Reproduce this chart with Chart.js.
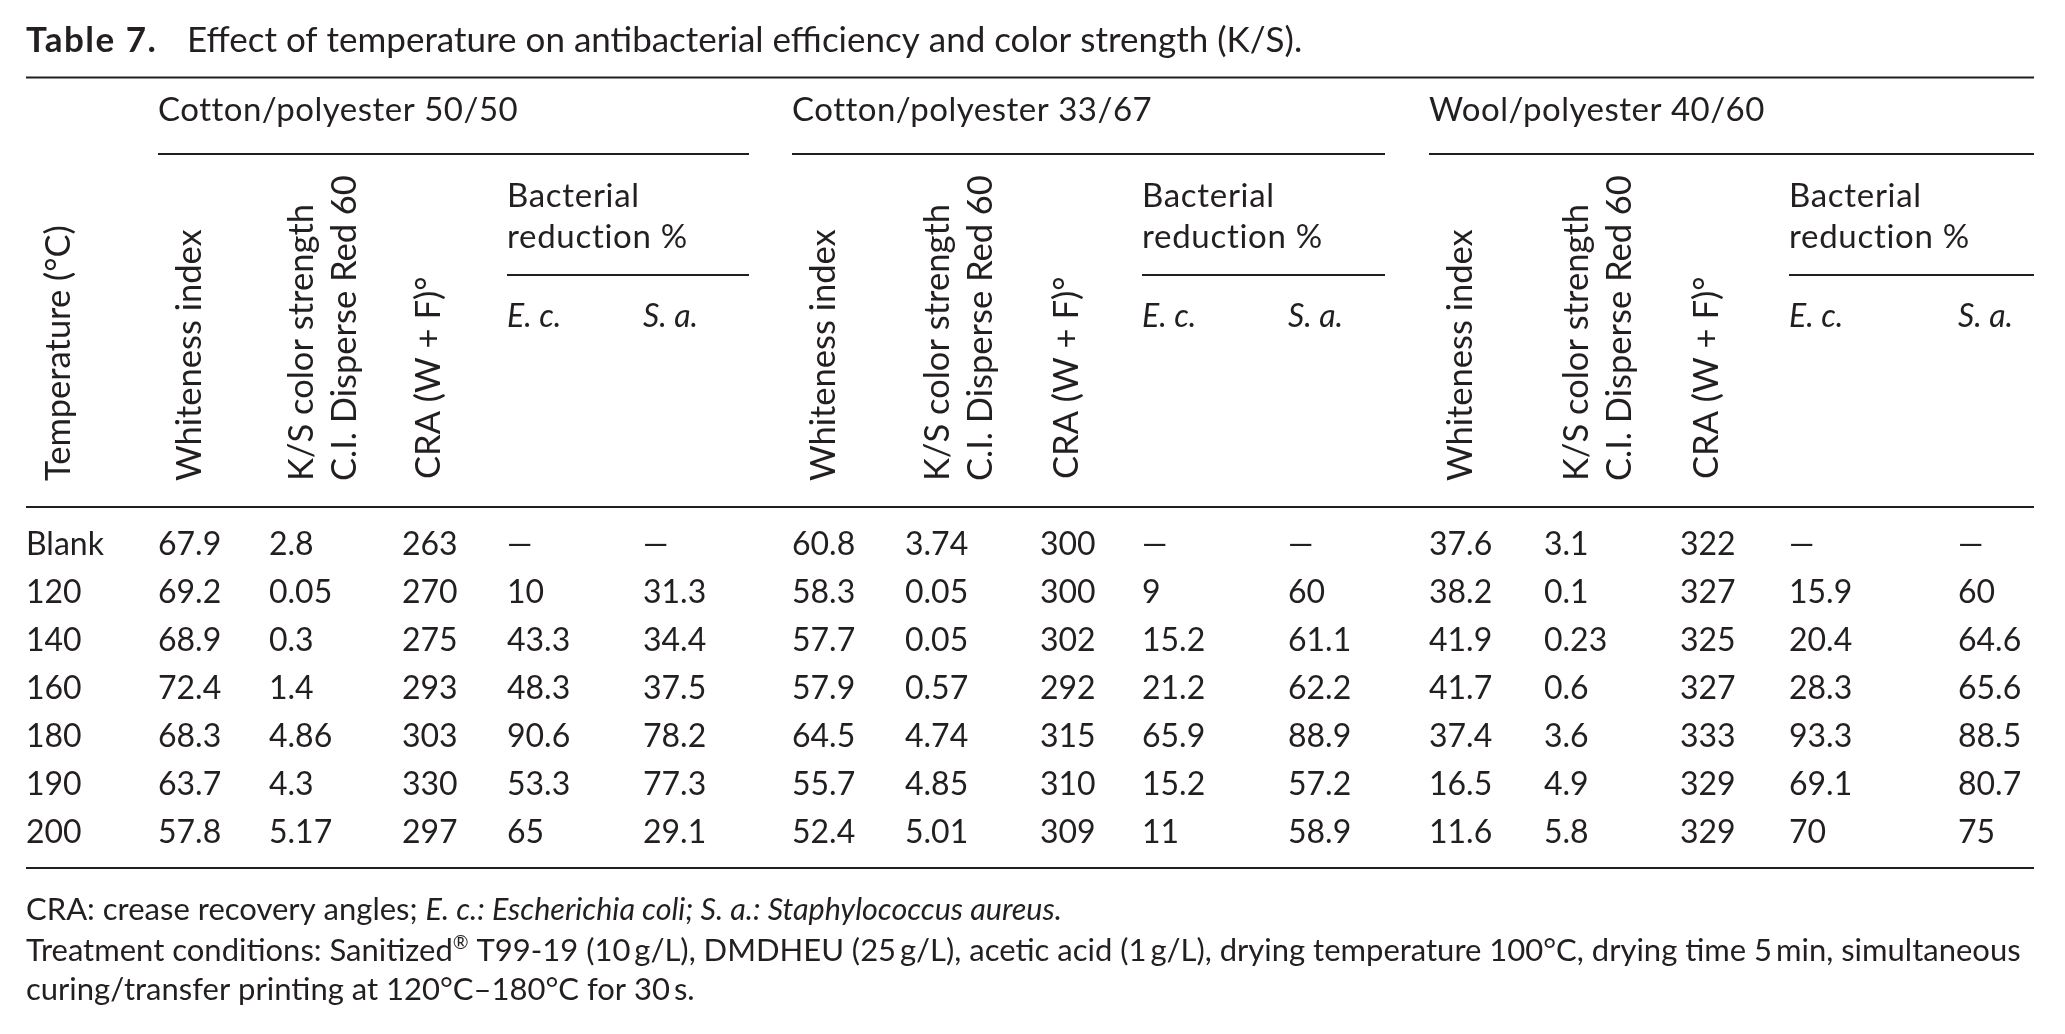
<!DOCTYPE html>
<html>
<head>
<meta charset="utf-8">
<script src="https://cdn.jsdelivr.net/npm/chart.js@4/dist/chart.umd.min.js"></script>
<style>
html,body{margin:0;padding:0;background:#fff;overflow:hidden}
#wrap{width:2065px;height:1034px;position:relative}
</style>
</head>
<body>
<div id="wrap"><canvas id="c"></canvas></div>
<script>
// ---------- DATA ----------
const rowLabels = ['Blank', '120', '140', '160', '180', '190', '200'];
const groupNames = ['Cotton/polyester 50/50', 'Cotton/polyester 33/67', 'Wool/polyester 40/60'];
const columnNames = ['Whiteness index', 'K/S color strength|C.I. Disperse Red 60', 'CRA (W + F)°', 'E. c.', 'S. a.'];

const cp5050Whiteness = [67.9, 69.2, 68.9, 72.4, 68.3, 63.7, 57.8];
const cp5050KS        = [2.8, 0.05, 0.3, 1.4, 4.86, 4.3, 5.17];
const cp5050CRA       = [263, 270, 275, 293, 303, 330, 297];
const cp5050Ec        = [null, 10, 43.3, 48.3, 90.6, 53.3, 65];
const cp5050Sa        = [null, 31.3, 34.4, 37.5, 78.2, 77.3, 29.1];

const cp3367Whiteness = [60.8, 58.3, 57.7, 57.9, 64.5, 55.7, 52.4];
const cp3367KS        = [3.74, 0.05, 0.05, 0.57, 4.74, 4.85, 5.01];
const cp3367CRA       = [300, 300, 302, 292, 315, 310, 309];
const cp3367Ec        = [null, 9, 15.2, 21.2, 65.9, 15.2, 11];
const cp3367Sa        = [null, 60, 61.1, 62.2, 88.9, 57.2, 58.9];

const wp4060Whiteness = [37.6, 38.2, 41.9, 41.7, 37.4, 16.5, 11.6];
const wp4060KS        = [3.1, 0.1, 0.23, 0.6, 3.6, 4.9, 5.8];
const wp4060CRA       = [322, 327, 325, 327, 333, 329, 329];
const wp4060Ec        = [null, 15.9, 20.4, 28.3, 93.3, 69.1, 70];
const wp4060Sa        = [null, 60, 64.6, 65.6, 88.5, 80.7, 75];

const groupValues = [
  [cp5050Whiteness, cp5050KS, cp5050CRA, cp5050Ec, cp5050Sa],
  [cp3367Whiteness, cp3367KS, cp3367CRA, cp3367Ec, cp3367Sa],
  [wp4060Whiteness, wp4060KS, wp4060CRA, wp4060Ec, wp4060Sa]
];

// ---------- LAYOUT (table units on the x scale) ----------
const layout = {
  tableLeft: 26, tableRight: 2034, titleTextLeft: 187,
  tempCol: 26,
  cols: [[158, 269, 402, 507, 643], [792, 905, 1040, 1142, 1288], [1429, 1544, 1680, 1789, 1958]],
  groupRight: [749, 1385, 2034],
  yTitle: 52, yTopRule: 77.5, yGroup: 121, yGroupRule: 154, yBact1: 207, yBact2: 248,
  yBactRule: 275, ySub: 327, yVertStart: 481, yHeadRule: 507, yBottomRule: 868,
  yFoot: [920, 961, 1000],
  rowTextShift: 12
};
const INK = '#231f20';
const FAM = 'Lato, "Open Sans", sans-serif';
const F_BODY = '32px ' + FAM;
const F_HEAD = '33px ' + FAM;
const F_ITAL = 'italic 32px ' + FAM;
const F_VERT = '34.5px ' + FAM;
const F_TITLE = '35px ' + FAM;
const F_TITLE_B = 'bold 35px ' + FAM;
const F_FOOT = '31px ' + FAM;
const F_FOOT_I = 'italic 30.5px ' + FAM;
const F_SUP = '19px ' + FAM;

const datasets = [];
groupValues.forEach((cols, g) => {
  cols.forEach((vals, k) => {
    datasets.push({
      label: groupNames[g] + ' ' + columnNames[k],
      data: rowLabels.map((r, i) => ({ x: layout.cols[g][k], y: r, v: vals[i] })),
      pointRadius: 0, pointHoverRadius: 0, showLine: false
    });
  });
});

function setSpacing(ctx, px) {
  if ('letterSpacing' in ctx) ctx.letterSpacing = px + 'px';
}
function rich(ctx, segs, x, y) {
  let cx = x;
  segs.forEach(s => {
    ctx.font = s[1];
    setSpacing(ctx, s[3] || 0);
    ctx.fillText(s[0], cx, y + (s[2] || 0));
    cx += ctx.measureText(s[0]).width;
  });
  setSpacing(ctx, 0);
}
function vtext(ctx, s, x, y, font) {
  ctx.save();
  ctx.translate(x, y);
  ctx.rotate(-Math.PI / 2);
  ctx.font = font;
  ctx.textAlign = 'left';
  ctx.textBaseline = 'alphabetic';
  ctx.fillText(s, 0, 0);
  ctx.restore();
}
function hline(ctx, x1, x2, y, w) {
  ctx.beginPath();
  ctx.lineWidth = w;
  ctx.strokeStyle = INK;
  ctx.moveTo(x1, y); ctx.lineTo(x2, y); ctx.stroke();
}

const tablePlugin = {
  id: 'tablePlugin',
  beforeDraw(chart) {
    const ctx = chart.ctx;
    ctx.save();
    ctx.fillStyle = '#fff';
    ctx.fillRect(0, 0, chart.width, chart.height);
    ctx.restore();
  },
  afterDraw(chart) {
    const ctx = chart.ctx;
    const xs = chart.scales.x, ys = chart.scales.y;
    const X = v => xs.getPixelForValue(v);
    ctx.save();
    ctx.fillStyle = INK;
    ctx.textBaseline = 'alphabetic';
    ctx.textAlign = 'left';

    // title
    rich(ctx, [['Table 7.', F_TITLE_B, 0, 1.5]], X(layout.tableLeft), layout.yTitle);
    rich(ctx, [['Effect of temperature on antibacterial efficiency and color strength (K/S).', F_TITLE]], X(layout.titleTextLeft), layout.yTitle);

    // rules
    hline(ctx, X(layout.tableLeft), X(layout.tableRight), layout.yTopRule, 2);
    hline(ctx, X(layout.tableLeft), X(layout.tableRight), layout.yHeadRule, 2);
    hline(ctx, X(layout.tableLeft), X(layout.tableRight), layout.yBottomRule, 2);

    // stub header
    vtext(ctx, 'Temperature (°C)', X(layout.tempCol) + 44, layout.yVertStart, F_VERT);

    groupNames.forEach((name, g) => {
      const c = layout.cols[g];
      rich(ctx, [[name, F_HEAD, 0, 0.5]], X(c[0]), layout.yGroup);
      hline(ctx, X(c[0]), X(layout.groupRight[g]), layout.yGroupRule, 2);
      // rotated column heads
      vtext(ctx, columnNames[0], X(c[0]) + 43, layout.yVertStart, F_VERT);
      const ks = columnNames[1].split('|');
      vtext(ctx, ks[0], X(c[1]) + 44, layout.yVertStart, F_VERT);
      vtext(ctx, ks[1], X(c[1]) + 87, layout.yVertStart, F_VERT);
      vtext(ctx, columnNames[2], X(c[2]) + 38, layout.yVertStart - 2, F_VERT);
      // bacterial reduction
      rich(ctx, [['Bacterial', F_HEAD, 0, 0.7]], X(c[3]), layout.yBact1);
      rich(ctx, [['reduction %', F_HEAD, 0, 0.7]], X(c[3]), layout.yBact2);
      hline(ctx, X(c[3]), X(layout.groupRight[g]), layout.yBactRule, 2);
      ctx.font = F_ITAL;
      ctx.fillText(columnNames[3], X(c[3]), layout.ySub);
      ctx.fillText(columnNames[4], X(c[4]), layout.ySub);
    });

    // row labels (from the category scale)
    ctx.font = F_BODY;
    ys.getLabels().forEach((lab, i) => {
      ctx.fillText(lab, X(layout.tempCol), ys.getPixelForValue(i) + layout.rowTextShift);
    });

    // cells
    chart.data.datasets.forEach((ds, di) => {
      const meta = chart.getDatasetMeta(di);
      meta.data.forEach((el, i) => {
        const v = ds.data[i].v;
        ctx.fillText(v === null ? '\u2014' : String(v), el.x, el.y + layout.rowTextShift);
      });
    });

    // footnotes
    rich(ctx, [['CRA: crease recovery angles; ', F_FOOT], ['E. c.: Escherichia coli; S. a.: Staphylococcus aureus.', F_FOOT_I]], X(layout.tableLeft), layout.yFoot[0]);
    rich(ctx, [['Treatment conditions: Sanitized', F_FOOT], ['\u00AE', F_SUP, -12], [' T99-19 (10\u2009g/L), DMDHEU (25\u2009g/L), acetic acid (1\u2009g/L), drying temperature 100\u00B0C, drying time 5\u2009min, simultaneous', F_FOOT]], X(layout.tableLeft), layout.yFoot[1]);
    rich(ctx, [['curing/transfer printing at 120\u00B0C\u2013180\u00B0C for 30\u2009s.', F_FOOT]], X(layout.tableLeft), layout.yFoot[2]);
    ctx.restore();
  }
};

new Chart(document.getElementById('c'), {
  type: 'scatter',
  data: { datasets },
  options: {
    responsive: true,
    maintainAspectRatio: false,
    animation: false,
    events: [],
    layout: { padding: { top: 519, bottom: 179, left: 0, right: 0 } },
    plugins: { legend: { display: false }, tooltip: { enabled: false } },
    scales: {
      x: { type: 'linear', min: 0, max: 2065, display: false },
      y: { type: 'category', labels: rowLabels, offset: true, display: false }
    }
  },
  plugins: [tablePlugin]
});
</script>
</body>
</html>
